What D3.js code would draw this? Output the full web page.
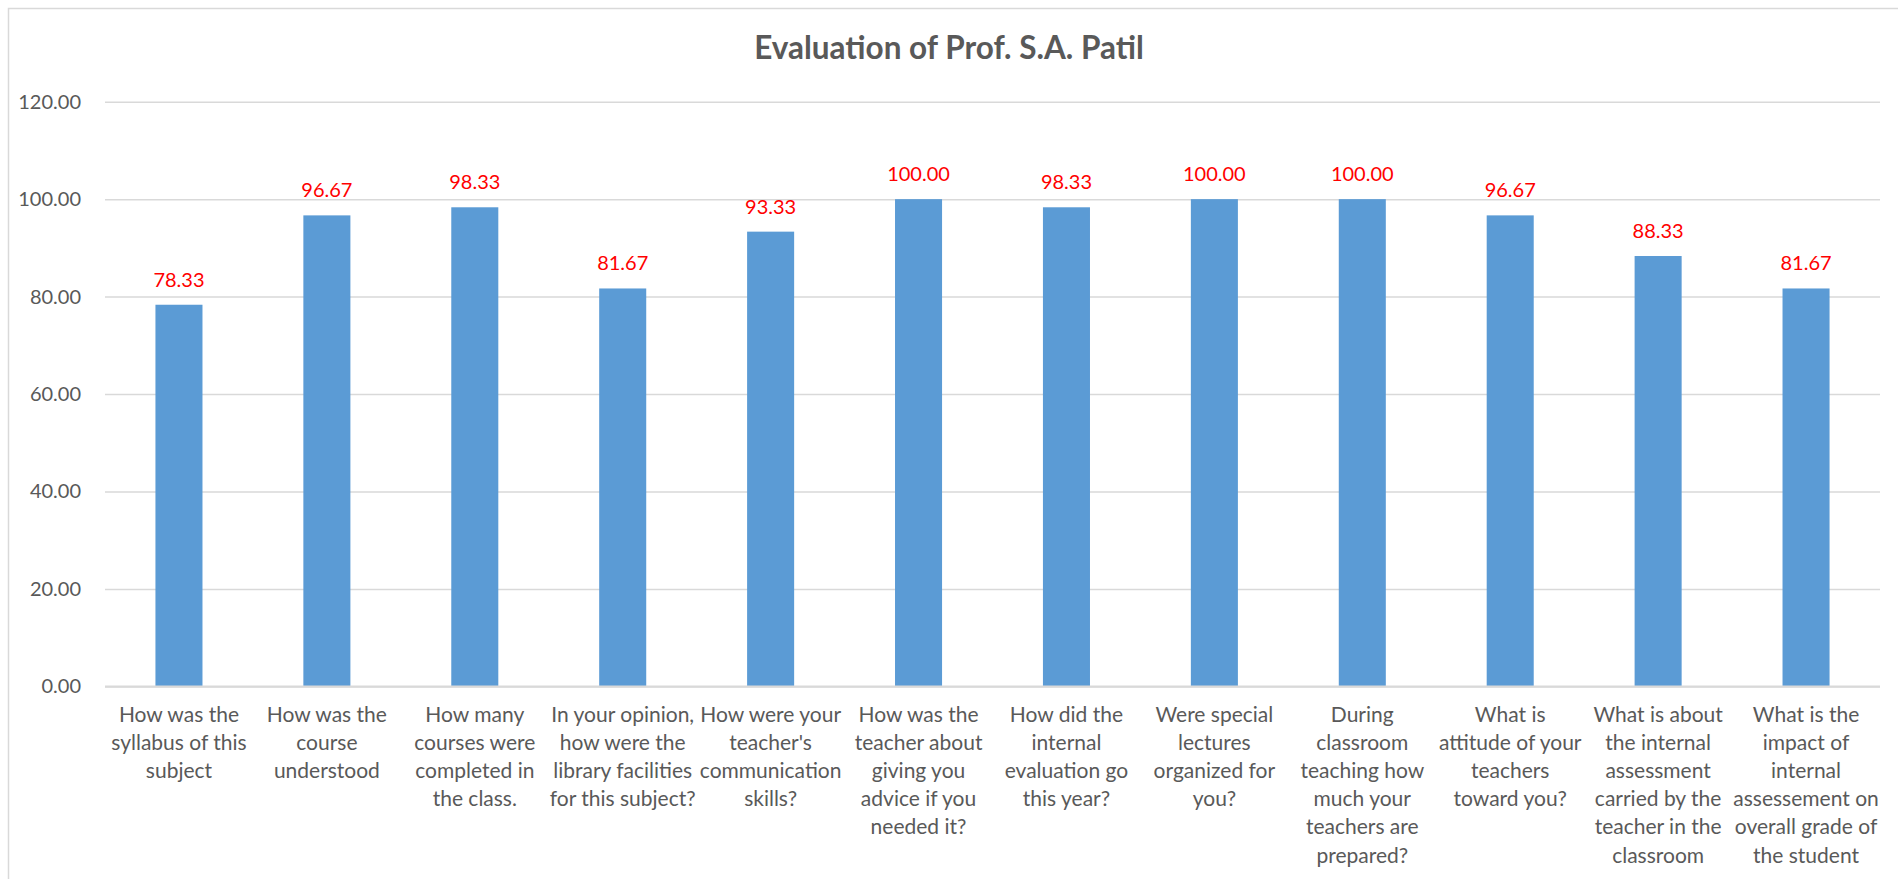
<html>
<head>
    <meta charset="utf-8">
    <title>Evaluation of Prof. S.A. Patil</title>
    <script src="https://d3js.org/d3.v7.min.js"></script>
    <style>
        body{
            margin: 0;
            background: #ffffff;
        }
        svg text{
            font-family: Lato, "Open Sans", sans-serif;
        }
    </style>
</head>
<body>
    <svg id="chart"></svg>
    <script>
        //chart data
        var title = "Evaluation of Prof. S.A. Patil";
        var categories = [
            "How was the\nsyllabus of this\nsubject",
            "How was the\ncourse\nunderstood",
            "How many\ncourses were\ncompleted in\nthe class.",
            "In your opinion,\nhow were the\nlibrary facilities\nfor this subject?",
            "How were your\nteacher's\ncommunication\nskills?",
            "How was the\nteacher about\ngiving you\nadvice if you\nneeded it?",
            "How did the\ninternal\nevaluation go\nthis year?",
            "Were special\nlectures\norganized for\nyou?",
            "During\nclassroom\nteaching how\nmuch your\nteachers are\nprepared?",
            "What is\nattitude of your\nteachers\ntoward you?",
            "What is about\nthe internal\nassessment\ncarried by the\nteacher in the\nclassroom",
            "What is the\nimpact of\ninternal\nassessement on\noverall grade of\nthe student"
        ];
        var values = [78.33, 96.67, 98.33, 81.67, 93.33, 100.00, 98.33, 100.00, 100.00, 96.67, 88.33, 81.67];
        var yTicks = [0, 20, 40, 60, 80, 100, 120];

        //setup canvas
        var width = 1898;
        var height = 879;
        var svg = d3.select("#chart").attr("width", width).attr("height", height);

        var plotLeft = 105, plotRight = 1880;
        var plotTop = 101.7, plotBottom = 686.4;

        //chart border
        svg.append("rect")
            .attr("x", 8.5).attr("y", 8.5)
            .attr("width", width).attr("height", height)
            .attr("fill", "#ffffff")
            .attr("stroke", "#d9d9d9")
            .attr("stroke-width", 1.5);

        //scales
        var x = d3.scaleBand()
            .domain(categories)
            .range([plotLeft, plotRight])
            .paddingInner(0.682)
            .paddingOuter(0.341);

        var y = d3.scaleLinear()
            .domain([0, 120])
            .range([plotBottom, plotTop]);

        //gridlines + y labels
        var yAxis = svg.append("g")
            .attr("transform", "translate(" + plotLeft + ",0)")
            .call(d3.axisLeft(y)
                .tickValues(yTicks)
                .tickFormat(d3.format(".2f"))
                .tickSize(-(plotRight - plotLeft))
                .tickPadding(24));
        yAxis.select(".domain").remove();
        yAxis.selectAll(".tick line")
            .attr("stroke", "#d9d9d9")
            .attr("stroke-width", 1.5);
        yAxis.selectAll(".tick text")
            .attr("fill", "#595959")
            .style("font-size", "20px");

        //bars
        svg.selectAll(".bar")
            .data(values)
            .enter()
            .append("rect")
            .attr("class", "bar")
            .attr("x", function(d, i){ return x(categories[i]); })
            .attr("y", function(d){ return y(d); })
            .attr("width", x.bandwidth())
            .attr("height", function(d){ return y(0) - y(d); })
            .attr("fill", "#5b9bd5");

        //x axis line
        svg.append("line")
            .attr("x1", plotLeft).attr("x2", plotRight)
            .attr("y1", y(0)).attr("y2", y(0))
            .attr("stroke", "#d9d9d9")
            .attr("stroke-width", 2);

        //data labels
        svg.selectAll(".value")
            .data(values)
            .enter()
            .append("text")
            .attr("class", "value")
            .attr("x", function(d, i){ return x(categories[i]) + x.bandwidth() / 2; })
            .attr("y", function(d){ return y(d) - 18; })
            .attr("text-anchor", "middle")
            .attr("fill", "#ff0000")
            .style("font-size", "20px")
            .text(function(d){ return d3.format(".2f")(d); });

        //category labels
        var labels = svg.selectAll(".cat")
            .data(categories)
            .enter()
            .append("text")
            .attr("class", "cat")
            .attr("text-anchor", "middle")
            .attr("fill", "#595959")
            .style("font-size", "21px");

        labels.each(function(d){
            var t = d3.select(this);
            var cx = x(d) + x.bandwidth() / 2;
            d.split("\n").forEach(function(line, j){
                t.append("tspan")
                    .attr("x", cx)
                    .attr("y", 722 + j * 28.1)
                    .text(line);
            });
        });

        //title
        svg.append("text")
            .attr("x", 949)
            .attr("y", 59)
            .attr("text-anchor", "middle")
            .attr("fill", "#595959")
            .style("font-size", "31.5px")
            .style("font-weight", "bold")
            .text(title);
    </script>
</body>
</html>
